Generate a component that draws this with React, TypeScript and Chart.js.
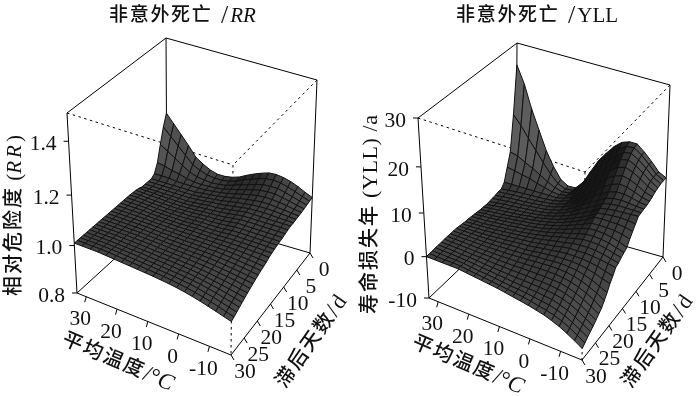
import React, { useEffect, useRef } from "react";
import { Chart, registerables } from "chart.js";

Chart.register(...registerables);

// Mean temperature columns (°C) and lag rows (days) of the two surfaces
const temps = [33, 30.5, 28, 25.5, 23, 20.5, 18, 15.5, 13, 10.5, 8, 5.5, 3, 0.5, -2, -4.5, -7, -9.5, -12, -14.5, -17];
const lags = [0, 1, 2, 3, 4, 5, 6, 7, 8, 9, 10, 11, 12, 13, 14, 15, 16, 17, 18, 19, 20, 21, 22, 23, 24, 25, 26, 27, 28, 29, 30];

const tempTicks = [30, 20, 10, 0, -10];
const lagTicks = [0, 5, 10, 15, 20, 25, 30];
const rrTicks = ["0.8", "1.0", "1.2", "1.4"];
const yllTicks = ["-10", "0", "10", "20", "30"];

const rrGrid = [
  [1.215,1.18,1.145,1.11,1.07,1.05,1.034,1.025,1.025,1.03,1.04,1.056,1.07,1.082,1.092,1.094,1.09,1.082,1.07,1.055,1.042],
  [1.17,1.14,1.11,1.08,1.05,1.035,1.025,1.02,1.02,1.025,1.035,1.05,1.06,1.072,1.08,1.083,1.08,1.072,1.062,1.05,1.04],
  [1.11,1.09,1.07,1.05,1.03,1.02,1.015,1.012,1.015,1.02,1.03,1.04,1.05,1.06,1.068,1.07,1.07,1.062,1.054,1.045,1.037],
  [1.045,1.04,1.03,1.025,1.015,1.01,1.008,1.01,1.012,1.017,1.025,1.033,1.042,1.05,1.057,1.06,1.06,1.054,1.048,1.04,1.035],
  [1.01,1.01,1.01,1.005,1.005,1.005,1.005,1.007,1.01,1.014,1.02,1.027,1.035,1.042,1.048,1.05,1.05,1.047,1.043,1.037,1.033],
  [1,1,1,1,1,1,1,1.005,1.008,1.012,1.017,1.023,1.03,1.035,1.04,1.043,1.043,1.04,1.038,1.034,1.032],
  [1,1,1,1,1,1,1,1.003,1.007,1.01,1.014,1.02,1.026,1.03,1.035,1.037,1.038,1.037,1.035,1.033,1.031],
  [1,1,1,1,1,1,1,1.003,1.006,1.01,1.012,1.017,1.022,1.027,1.032,1.033,1.034,1.033,1.032,1.031,1.03],
  [1,1,1,1,1,1,1,1.002,1.005,1.01,1.01,1.015,1.02,1.025,1.03,1.03,1.03,1.03,1.03,1.03,1.03],
  [1.005,1.004,1.003,1.002,1.001,1.001,1.001,1.002,1.005,1.008,1.01,1.013,1.017,1.022,1.026,1.027,1.027,1.027,1.028,1.028,1.028],
  [1.008,1.006,1.005,1.004,1.003,1.002,1.002,1.003,1.005,1.008,1.01,1.012,1.015,1.02,1.024,1.025,1.025,1.025,1.025,1.025,1.025],
  [1.009,1.008,1.006,1.005,1.004,1.003,1.003,1.004,1.005,1.008,1.01,1.011,1.013,1.017,1.022,1.022,1.022,1.022,1.022,1.022,1.022],
  [1.01,1.01,1.008,1.006,1.005,1.004,1.004,1.005,1.005,1.008,1.01,1.01,1.012,1.015,1.02,1.02,1.02,1.02,1.02,1.02,1.02],
  [1.01,1.01,1.009,1.008,1.006,1.005,1.005,1.005,1.006,1.008,1.01,1.01,1.011,1.013,1.017,1.018,1.018,1.018,1.018,1.018,1.018],
  [1.01,1.01,1.01,1.009,1.007,1.006,1.006,1.006,1.006,1.008,1.01,1.01,1.01,1.012,1.015,1.016,1.016,1.016,1.016,1.016,1.015],
  [1.01,1.01,1.01,1.01,1.008,1.007,1.007,1.007,1.007,1.008,1.01,1.01,1.01,1.011,1.013,1.014,1.014,1.014,1.014,1.013,1.012],
  [1.01,1.01,1.01,1.01,1.009,1.008,1.008,1.008,1.008,1.008,1.01,1.01,1.01,1.01,1.012,1.012,1.012,1.012,1.011,1.01,1.008],
  [1.01,1.01,1.01,1.01,1.01,1.009,1.008,1.008,1.008,1.008,1.009,1.009,1.01,1.01,1.01,1.01,1.01,1.009,1.007,1.005,1.002],
  [1.01,1.01,1.01,1.01,1.01,1.01,1.009,1.008,1.008,1.008,1.008,1.009,1.009,1.009,1.009,1.009,1.008,1.006,1.004,1.001,0.998],
  [1.01,1.01,1.01,1.01,1.01,1.01,1.009,1.008,1.008,1.008,1.008,1.008,1.008,1.008,1.008,1.007,1.005,1.003,1,0.997,0.994],
  [1.01,1.01,1.01,1.01,1.01,1.01,1.009,1.008,1.007,1.007,1.007,1.007,1.007,1.007,1.006,1.004,1.002,1,0.997,0.993,0.99],
  [1.01,1.01,1.01,1.01,1.01,1.01,1.009,1.008,1.007,1.006,1.006,1.006,1.005,1.005,1.004,1.002,0.999,0.996,0.993,0.989,0.985],
  [1.01,1.01,1.01,1.01,1.01,1.01,1.009,1.008,1.007,1.006,1.005,1.005,1.004,1.003,1.001,0.999,0.996,0.993,0.989,0.985,0.98],
  [1.01,1.01,1.01,1.01,1.01,1.009,1.009,1.008,1.006,1.005,1.004,1.003,1.002,1.001,0.999,0.996,0.993,0.989,0.985,0.98,0.975],
  [1.01,1.01,1.01,1.01,1.01,1.009,1.008,1.007,1.005,1.004,1.003,1.002,1,0.999,0.996,0.993,0.989,0.985,0.98,0.975,0.97],
  [1.01,1.01,1.01,1.01,1.009,1.008,1.007,1.006,1.005,1.003,1.002,1.001,0.999,0.997,0.994,0.99,0.986,0.981,0.976,0.97,0.964],
  [1.01,1.01,1.01,1.01,1.009,1.008,1.007,1.006,1.004,1.002,1.001,0.999,0.997,0.995,0.992,0.988,0.983,0.978,0.972,0.965,0.958],
  [1.01,1.01,1.01,1.01,1.009,1.008,1.007,1.005,1.003,1.001,0.999,0.997,0.995,0.993,0.99,0.986,0.98,0.974,0.967,0.96,0.952],
  [1.01,1.01,1.01,1.01,1.009,1.008,1.006,1.004,1.002,1,0.998,0.996,0.994,0.991,0.987,0.982,0.976,0.97,0.962,0.954,0.946],
  [1.01,1.01,1.01,1.01,1.009,1.007,1.005,1.003,1.001,0.999,0.997,0.995,0.992,0.988,0.984,0.978,0.972,0.965,0.957,0.948,0.94],
  [1.01,1.01,1.01,1.01,1.008,1.006,1.004,1.002,1,0.998,0.996,0.993,0.99,0.986,0.981,0.975,0.968,0.96,0.952,0.943,0.935],
];

const yllGrid = [
  [25.4,21.7,16.6,12.3,8,4.7,2.1,1,1.1,3,6.2,9.2,11.4,13.4,14.8,15.4,15.4,14,12.3,10.4,9.5],
  [15,13,10.5,8.2,5.8,3.6,1.8,1,1.2,2.8,5.5,8.2,10.4,12.4,14,15,15.2,14,12.4,10.6,9.6],
  [7,6.5,5.5,4.6,3.5,2.4,1.5,1,1.3,2.6,4.8,7.2,9.4,11.4,13,14.3,14.6,13.6,12.2,10.6,9.6],
  [4,3.6,3.2,2.8,2.2,1.7,1.2,1,1.4,2.4,4.2,6.4,8.4,10.4,12,13.4,13.8,13,11.8,10.4,9.4],
  [1,1,1,1,1,1,1,1,1.4,2.2,3.8,5.6,7.5,9.4,11,12.3,12.8,12.2,11.2,10,9.2],
  [0,0.2,0.4,0.5,0.6,0.7,0.8,1,1.4,2.1,3.4,5,6.7,8.4,10,11,11.6,11.2,10.4,9.4,8.8],
  [0,0.1,0.3,0.4,0.5,0.6,0.8,1,1.4,2,3.1,4.5,6,7.5,8.8,9.8,10.4,10.2,9.6,8.9,8.5],
  [-0.2,0,0.2,0.3,0.4,0.6,0.8,1,1.4,2,2.9,4.1,5.4,6.7,7.8,8.8,9.3,9.3,9,8.5,8.3],
  [-0.3,-0.1,0.1,0.3,0.4,0.6,0.8,1,1.4,1.9,2.7,3.7,4.9,6,7,8,8.5,8.6,8.5,8.3,8.2],
  [-0.4,-0.2,0.1,0.2,0.4,0.6,0.8,1,1.4,1.9,2.6,3.4,4.5,5.4,6.4,7.5,7.9,8.1,8.1,8.1,8.1],
  [-0.5,-0.2,0,0.2,0.4,0.6,0.8,1.1,1.4,1.9,2.5,3.2,4.1,5,5.9,7.1,7.5,7.7,7.8,7.9,8],
  [-0.4,-0.2,0,0.2,0.4,0.6,0.9,1.1,1.5,1.9,2.4,3.1,3.9,4.7,5.6,6.7,7,7.2,7.3,7.2,7],
  [-0.4,-0.2,0,0.2,0.4,0.7,0.9,1.2,1.5,1.9,2.4,3,3.7,4.5,5.4,6.5,6.6,6.6,6.6,6.4,6],
  [-0.3,-0.1,0,0.2,0.5,0.7,1,1.2,1.5,1.9,2.4,2.9,3.6,4.3,5,5.8,5.9,5.9,5.8,5.5,5],
  [-0.2,0,0.1,0.3,0.5,0.7,1,1.2,1.5,1.8,2.3,2.8,3.4,4,4.7,5.3,5.4,5.3,5,4.5,3.8],
  [-0.1,0,0.1,0.3,0.5,0.7,1,1.2,1.5,1.8,2.2,2.7,3.2,3.7,4.2,4.7,4.8,4.7,4.4,3.9,3.4],
  [0,0,0.1,0.3,0.5,0.7,0.9,1.1,1.4,1.7,2.1,2.5,3,3.4,3.8,4.2,4.3,4.2,3.9,3.4,3],
  [0,0.1,0.2,0.3,0.5,0.7,0.9,1.1,1.3,1.6,1.9,2.3,2.7,3,3.4,3.6,3.7,3.6,3.3,2.9,2.5],
  [0.1,0.1,0.2,0.3,0.5,0.6,0.8,1,1.2,1.4,1.7,2,2.3,2.7,3,3,3.1,3,2.8,2.5,2.2],
  [0.2,0.2,0.2,0.3,0.4,0.6,0.7,0.9,1.1,1.2,1.5,1.8,2,2.3,2.5,2.5,2.5,2.3,2,1.5,1],
  [0.3,0.3,0.3,0.3,0.4,0.5,0.6,0.8,0.9,1,1.2,1.5,1.7,1.9,2,2,1.9,1.6,1.1,0.5,0],
  [0.3,0.3,0.3,0.3,0.3,0.4,0.5,0.6,0.7,0.8,1,1.2,1.3,1.5,1.6,1.5,1.3,0.9,0.3,-0.5,-1.3],
  [0.3,0.3,0.3,0.3,0.3,0.3,0.4,0.4,0.5,0.6,0.7,0.9,1,1.1,1.1,1,0.7,0.2,-0.5,-1.3,-2.4],
  [0.3,0.3,0.3,0.2,0.2,0.2,0.2,0.2,0.3,0.3,0.4,0.5,0.6,0.6,0.6,0.4,0.1,-0.5,-1.2,-2.1,-3.4],
  [0.3,0.2,0.2,0.2,0.1,0.1,0.1,0,0,0,0.1,0.1,0.1,0.1,0,-0.1,-0.5,-1.1,-1.9,-2.9,-4],
  [0.2,0.2,0.2,0.1,0,0,-0.1,-0.2,-0.2,-0.3,-0.3,-0.3,-0.4,-0.4,-0.5,-0.7,-1.1,-1.7,-2.5,-3.5,-4.6],
  [0.2,0.2,0.1,0,0,-0.1,-0.3,-0.4,-0.5,-0.6,-0.7,-0.7,-0.8,-0.9,-1,-1.2,-1.6,-2.2,-3.1,-4.1,-5.2],
  [0.2,0.1,0.1,0,-0.1,-0.2,-0.4,-0.5,-0.7,-0.8,-1,-1.1,-1.2,-1.3,-1.5,-1.7,-2.2,-2.8,-3.7,-4.7,-5.7],
  [0.1,0.1,0,0,-0.1,-0.3,-0.5,-0.6,-0.8,-1,-1.2,-1.3,-1.5,-1.7,-2,-2.2,-2.7,-3.3,-4.2,-5.2,-6.2],
  [0.1,0,0,0,-0.1,-0.3,-0.5,-0.7,-0.9,-1.1,-1.3,-1.5,-1.7,-2,-2.4,-2.7,-3.2,-3.8,-4.7,-5.7,-6.8],
  [0,0,0,0,0,-0.2,-0.4,-0.6,-0.8,-1,-1.3,-1.6,-1.9,-2.2,-2.6,-3,-3.6,-4.3,-5.2,-6.2,-7.3],
];

const SERIF = '"Liberation Serif", serif';
const CJK = '"Liberation Serif", "Noto Sans CJK SC", serif';
const TMAX = temps[0];
const TMIN = temps[temps.length - 1];
const LMAX = lags[lags.length - 1];
const PERSP = 1.118;

type Pt = [number, number];
type Run = { t: string; font: string; sp?: number };
type Panel = {
  grid: number[][]; zMin: number; zMax: number;
  zTicks: string[];
  K: Pt; C: Pt; A: Pt; B: Pt; K2: Pt; C2: Pt; A2: Pt; B2: Pt;
  title: { x: number; y: number; runs: Run[] };
  yLabel: { x: number; y: number; runs: Run[] };
  tLabel: { x: number; y: number; runs: Run[] };
  lLabel: { x: number; y: number; runs: Run[] };
};

const cjkRun = (t: string, size = 20, sp = 2): Run => ({ t, font: `500 ${size}px ${CJK}`, sp });
const latin = (t: string, size = 21, sp = 0): Run => ({ t, font: `${size}px ${SERIF}`, sp });
const ital = (t: string, size = 21, sp = 0): Run => ({ t, font: `italic ${size}px ${SERIF}`, sp });

const panels: Panel[] = [
  {
    grid: rrGrid, zMin: 0.8, zMax: 1.5, zTicks: rrTicks,
    K: [167, 211], C: [310, 253], A: [77, 293], B: [231, 355],
    K2: [166, 38], C2: [317, 80], A2: [67, 113], B2: [233, 165],
    title: { x: 109, y: 16, runs: [cjkRun("非意外死亡", 19, 1.7), latin(" /", 26, 2), ital("RR")] },
    yLabel: { x: 15, y: 296, runs: [cjkRun("相对危险度", 20, 2), latin(" ("), ital("RR", 21, 3), latin(")")] },
    tLabel: { x: 63, y: 339, runs: [cjkRun("平均温度", 20, 2), latin("/°", 23), ital("C", 23)] },
    lLabel: { x: 281, y: 386, runs: [cjkRun("滞后天数", 20, 2), latin("/", 23, 2), latin("d", 22)] },
  },
  {
    grid: yllGrid, zMin: -10, zMax: 30, zTicks: yllTicks,
    K: [166, 215], C: [313, 257], A: [79, 298], B: [232, 360],
    K2: [167, 43], C2: [320, 85], A2: [68, 118], B2: [235, 172],
    title: { x: 106, y: 16, runs: [cjkRun("非意外死亡", 19, 1.7), latin(" /", 26, 2), latin("YLL")] },
    yLabel: { x: 21, y: 314, runs: [cjkRun("寿命损失年", 20, 2), latin(" (YLL) /a", 22, 0.6)] },
    tLabel: { x: 63, y: 342, runs: [cjkRun("平均温度", 20, 2), latin("/°", 23), ital("C", 23)] },
    lLabel: { x: 277, y: 386, runs: [cjkRun("滞后天数", 20, 2), latin("/", 23, 2), latin("d", 22)] },
  },
];

function project(p: Panel, t: number, l: number, z: number): Pt {
  const u = (TMAX - t) / (TMAX - TMIN);
  const v = l / LMAX;
  const f0 = (z - p.zMin) / (p.zMax - p.zMin);
  const f = f0 / (PERSP + (1 - PERSP) * f0);
  const bi = (a: Pt, b: Pt, c: Pt, d: Pt, i: number) =>
    a[i] * (1 - u) * (1 - v) + b[i] * u * (1 - v) + c[i] * (1 - u) * v + d[i] * u * v;
  const out: Pt = [0, 0];
  for (const i of [0, 1]) {
    const lo = bi(p.K, p.C, p.A, p.B, i);
    const hi = bi(p.K2, p.C2, p.A2, p.B2, i);
    out[i] = lo + (hi - lo) * f;
  }
  return out;
}

const toXY = (q: Pt) => ({ x: q[0], y: q[1] });

const segment = (a: Pt, b: Pt, color = "#000", width = 1, dash: number[] = []) => ({
  data: [toXY(a), toXY(b)], borderColor: color, borderWidth: width, borderDash: dash,
  pointRadius: 0, fill: false, tension: 0,
});

function facetDatasets(p: Panel) {
  const out: any[] = [];
  const span = p.zMax - p.zMin;
  const du = 1 / (temps.length - 1);
  const dv = 1 / (lags.length - 1);
  // nearest facets first: Chart.js paints the first dataset last
  for (let j = lags.length - 2; j >= 0; j--) {
    for (let i = temps.length - 2; i >= 0; i--) {
      const a = p.grid[j][i], b = p.grid[j][i + 1], c = p.grid[j + 1][i + 1], d = p.grid[j + 1][i];
      const zu = ((b + c - a - d) / 2 / span) / du;
      const zv = ((c + d - a - b) / 2 / span) / dv;
      const len = Math.hypot(zu, zv, 1);
      const nu = -zu / len, nv = -zv / len, nz = 1 / len;
      const light = nu * 0.45 + nv * nv * nv * nv * 0.55 + nz * nz * 0.35;
      const g = Math.round(22 + 125 * Math.max(0, Math.min(1, light)));
      const pts = [
        project(p, temps[i], lags[j], a),
        project(p, temps[i + 1], lags[j], b),
        project(p, temps[i + 1], lags[j + 1], c),
        project(p, temps[i], lags[j + 1], d),
        project(p, temps[i], lags[j], a),
      ].map(toXY);
      out.push({
        data: pts, fill: "shape", backgroundColor: `rgb(${g},${g},${g})`,
        borderColor: "#101010", borderWidth: 1, pointRadius: 0, tension: 0,
      });
    }
  }
  return out;
}

function boxDatasets(p: Panel) {
  const lines = [
    segment(p.A2, p.K2), segment(p.K2, p.C2), segment(p.K2, p.K), segment(p.A2, p.A),
    segment(p.C2, p.C), segment(p.A, p.K), segment(p.C, p.K),
    segment(p.A, p.B), segment(p.B, p.C),
    segment(p.A2, p.B2, "#000", 1, [2.5, 3.5]),
    segment(p.C2, p.B2, "#000", 1, [2.5, 3.5]),
    segment(p.B2, p.B, "#000", 1, [2.5, 3.5]),
  ];
  return lines;
}

function tickDatasets(p: Panel) {
  const out: any[] = [];
  for (const t of tempTicks) {
    const q = project(p, t, LMAX, p.zMin);
    out.push(segment(q, [q[0] - 1.5, q[1] + 5.5] as Pt));
  }
  for (const l of lagTicks) {
    const q = project(p, TMIN, l, p.zMin);
    out.push(segment(q, [q[0] + 3, q[1] + 5] as Pt));
  }
  p.zTicks.forEach((s) => {
    const q = project(p, TMAX, LMAX, parseFloat(s));
    out.push(segment(q, [q[0] - 5, q[1]] as Pt));
  });
  return out;
}

function drawRuns(ctx: CanvasRenderingContext2D, x: number, y: number, angle: number, runs: Run[]) {
  ctx.save();
  ctx.translate(x, y);
  ctx.rotate((angle * Math.PI) / 180);
  ctx.textAlign = "left";
  ctx.textBaseline = "middle";
  ctx.fillStyle = "#111";
  let cx = 0;
  for (const r of runs) {
    ctx.font = r.font;
    (ctx as any).letterSpacing = `${r.sp ?? 0}px`;
    ctx.fillText(r.t, cx, 0);
    cx += ctx.measureText(r.t).width;
  }
  (ctx as any).letterSpacing = "0px";
  ctx.restore();
}

function labelPlugin(p: Panel) {
  return {
    id: "panelText",
    afterDraw(chart: any) {
      const ctx: CanvasRenderingContext2D = chart.ctx;
      const tick = `21.5px ${SERIF}`;
      ctx.save();
      ctx.fillStyle = "#111";
      ctx.font = tick;
      ctx.textBaseline = "middle";
      ctx.textAlign = "right";
      p.zTicks.forEach((s) => {
        const q = project(p, TMAX, LMAX, parseFloat(s));
        ctx.fillText(s, q[0] - 12, q[1] + 3);
      });
      ctx.textAlign = "center";
      tempTicks.forEach((t) => {
        const q = project(p, t, LMAX, p.zMin);
        ctx.fillText(String(t), q[0] - 6, q[1] + 23);
      });
      lagTicks.forEach((l) => {
        const q = project(p, TMIN, l, p.zMin);
        ctx.fillText(String(l), q[0] + 14, q[1] + 17);
      });
      ctx.restore();
      drawRuns(ctx, p.title.x, p.title.y, 0, p.title.runs);
      drawRuns(ctx, p.yLabel.x, p.yLabel.y, -90, p.yLabel.runs);
      drawRuns(ctx, p.tLabel.x, p.tLabel.y, 23, p.tLabel.runs);
      drawRuns(ctx, p.lLabel.x, p.lLabel.y, -55, p.lLabel.runs);
    },
  };
}

function Panel3D({ panel, left }: { panel: Panel; left: number }) {
  const ref = useRef<HTMLCanvasElement>(null);
  useEffect(() => {
    const chart = new Chart(ref.current as HTMLCanvasElement, {
      type: "line",
      data: { datasets: [...tickDatasets(panel), ...facetDatasets(panel), ...boxDatasets(panel)] as any },
      options: {
        animation: false,
        responsive: false,
        devicePixelRatio: 1,
        layout: { padding: 0 },
        scales: {
          x: { type: "linear", min: 0, max: 350, display: false },
          y: { type: "linear", min: 0, max: 396, reverse: true, display: false },
        },
        plugins: { legend: { display: false }, tooltip: { enabled: false }, title: { display: false } },
        events: [],
      } as any,
      plugins: [labelPlugin(panel) as any],
    });
    return () => chart.destroy();
  }, [panel]);
  return (
    <canvas ref={ref} width={350} height={396}
      style={{ position: "absolute", left, top: 0, width: 350, height: 396, display: "block" }} />
  );
}

export default function App() {
  return (
    <div style={{ position: "absolute", left: 0, top: 0, width: 700, height: 396, background: "#fff", overflow: "hidden" }}>
      <Panel3D panel={panels[0]} left={0} />
      <Panel3D panel={panels[1]} left={350} />
    </div>
  );
}
